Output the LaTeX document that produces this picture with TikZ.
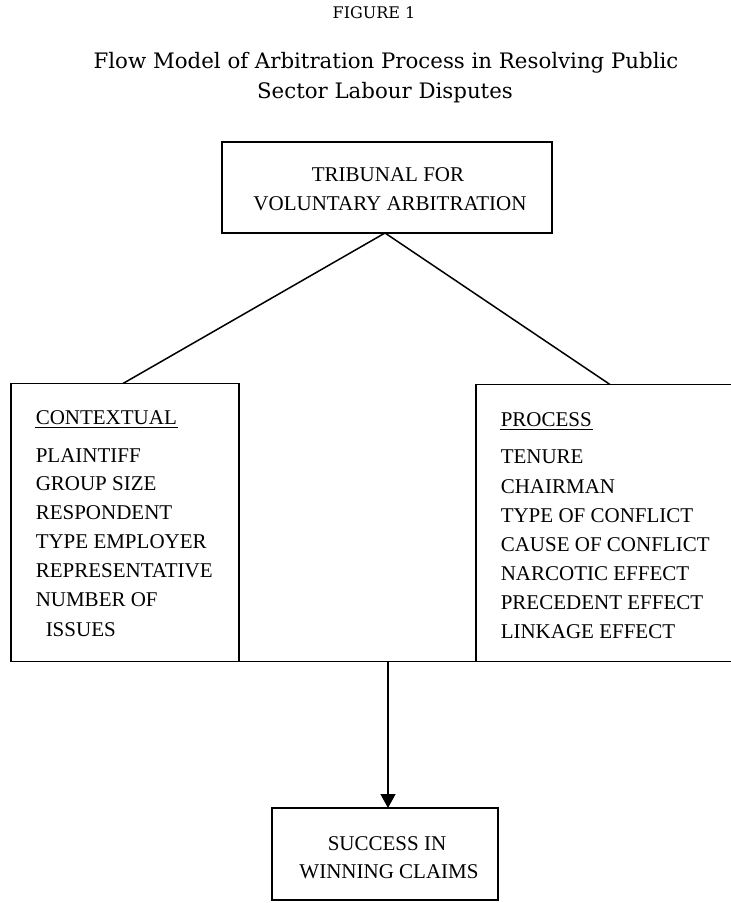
\documentclass[tikz,border=0pt]{standalone}
\usepackage{fontspec}
\setmainfont{Liberation Serif}
\newfontfamily\titlefont{DejaVu Serif}
\usetikzlibrary{arrows.meta}
\begin{document}
\begin{tikzpicture}[x=1pt,y=-1pt,
  line width=1.5pt,
  boxnode/.style={draw, rectangle, anchor=north west, inner sep=0pt, outer sep=0pt, line width=1.5pt},
  txt/.style={anchor=base west, inner sep=0pt, font=\fontsize{21}{25}\selectfont},
  ctxt/.style={anchor=base, inner sep=0pt, font=\fontsize{21}{25}\selectfont},
  ttl/.style={anchor=base, inner sep=0pt}]
\useasboundingbox (0,0) rectangle (731,903);
\clip (0,0) rectangle (731,903);
% title
\node[ttl, font=\titlefont\fontsize{16}{18}\selectfont] (fig) at (374,18.3) {FIGURE 1};
\node[ttl, font=\titlefont\fontsize{21.3}{24}\selectfont] (t1) at (386,68.5) {Flow Model of Arbitration Process in Resolving Public};
\node[ttl, font=\titlefont\fontsize{21.3}{24}\selectfont] (t2) at (385,98) {Sector Labour Disputes};
% boxes
\node[boxnode, minimum width=330pt, minimum height=91pt] (top) at (222,142) {};
\node[boxnode, minimum width=228pt, minimum height=278pt] (lbox) at (11,383.5) {};
\node[boxnode, minimum width=300pt, minimum height=277pt] (rbox) at (476,384.5) {};
\node[boxnode, minimum width=226pt, minimum height=92pt] (bbox) at (272,808) {};
% top box text
\node[ctxt] (tb1) at (388,181.5) {TRIBUNAL FOR};
\node[ctxt] (tb2) at (390,210) {VOLUNTARY ARBITRATION};
% bottom box text
\node[ctxt] (bb1) at (387,850) {SUCCESS IN};
\node[ctxt] (bb2) at (389,878) {WINNING CLAIMS};
% left box text
\node[txt] (ctx) at (35,424) {CONTEXTUAL};
\draw[line width=1pt] ([yshift=-3pt]ctx.base west) -- ([yshift=-3pt]ctx.base east);
\node[txt] (l1) at (35,462) {PLAINTIFF};
\node[txt] (l2) at (35,490.5) {GROUP SIZE};
\node[txt] (l3) at (35,519) {RESPONDENT};
\node[txt] (l4) at (35,548) {TYPE EMPLOYER};
\node[txt] (l5) at (35,577) {REPRESENTATIVE};
\node[txt] (l6) at (35,606) {NUMBER OF};
\node[txt] (l7) at (45,636.5) {ISSUES};
% right box text
\node[txt] (prc) at (500,426) {PROCESS};
\draw[line width=1pt] ([yshift=-3pt]prc.base west) -- ([yshift=-3pt]prc.base east);
\node[txt] (r1) at (500,463) {TENURE};
\node[txt] (r2) at (500,493) {CHAIRMAN};
\node[txt] (r3) at (500,522) {TYPE OF CONFLICT};
\node[txt] (r4) at (500,551.5) {CAUSE OF CONFLICT};
\node[txt] (r5) at (500,580) {NARCOTIC EFFECT};
\node[txt] (r6) at (500,609) {PRECEDENT EFFECT};
\node[txt] (r7) at (500,638) {LINKAGE EFFECT};
% connectors
\coordinate (lt) at ([xshift=112pt]lbox.north west);
\coordinate (rt) at ([xshift=134pt]rbox.north west);
\coordinate (apex) at ([xshift=-2pt]top.south);
\draw (apex) -- (lt);
\draw (apex) -- (rt);
\draw (lbox.south east) -- (rbox.south west);
\coordinate (mid) at ([xshift=3pt]lbox.south east -| bbox.north);
\draw[-{Triangle[width=15pt,length=14pt]}] (mid) -- (mid |- bbox.north);
\end{tikzpicture}
\end{document}
